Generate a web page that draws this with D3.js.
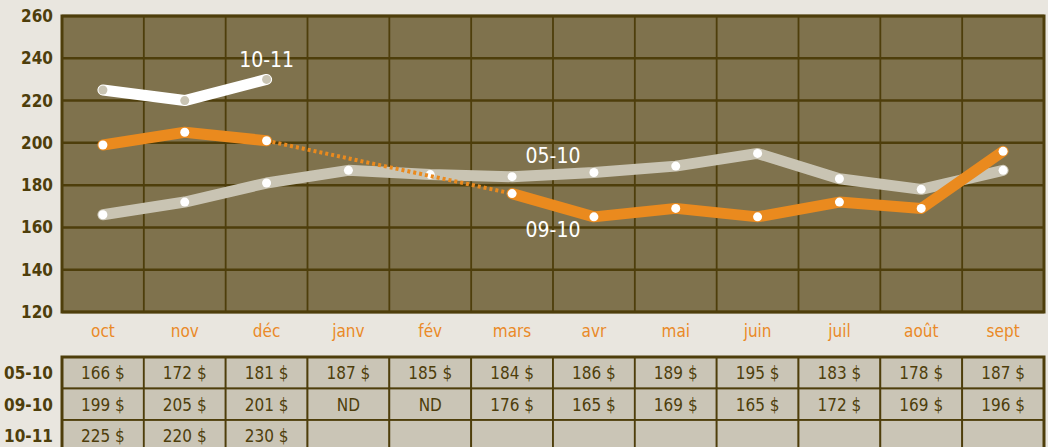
<!DOCTYPE html>
<html>
<head>
<meta charset="utf-8">
<script src="https://cdn.jsdelivr.net/npm/d3@7"></script>
<style>
  body { margin: 0; background: #e9e6df; }
  svg { display: block; }
  text { font-family: "Liberation Sans Narrow", "DejaVu Sans Condensed", "Open Sans", sans-serif; }
</style>
</head>
<body>
<svg id="chart"></svg>
<script>
// data
var months = ["oct", "nov", "déc", "janv", "fév", "mars", "avr", "mai", "juin", "juil", "août", "sept"];
var series0510 = [166, 172, 181, 187, 185, 184, 186, 189, 195, 183, 178, 187];
var series0910 = [199, 205, 201, null, null, 176, 165, 169, 165, 172, 169, 196];
var series1011 = [225, 220, 230];
var rowLabels = ["05-10", "09-10", "10-11"];
var yTicks = [120, 140, 160, 180, 200, 220, 240, 260];

var W = 1048, H = 447;
var plotLeft = 62, plotRight = 1044, plotTop = 16, plotBottom = 312;

var svg = d3.select("#chart").attr("width", W).attr("height", H);

var x = d3.scaleBand().domain(months).range([plotLeft, plotRight]);
var y = d3.scaleLinear().domain([120, 260]).range([plotBottom, plotTop]);
var cx = function (i) { return x(months[i]) + x.bandwidth() / 2; };

var dark = "#4e3e0b";

// plot background
svg.append("rect")
    .attr("x", plotLeft).attr("y", plotTop)
    .attr("width", plotRight - plotLeft).attr("height", plotBottom - plotTop)
    .attr("fill", "#7f724d");

// grid
svg.append("g").selectAll("line")
    .data(yTicks)
    .join("line")
    .attr("x1", plotLeft).attr("x2", plotRight)
    .attr("y1", d => y(d)).attr("y2", d => y(d))
    .attr("stroke", dark).attr("stroke-width", 2.5);

svg.append("g").selectAll("line")
    .data(months.slice(1))
    .join("line")
    .attr("x1", d => x(d)).attr("x2", d => x(d))
    .attr("y1", plotTop).attr("y2", plotBottom)
    .attr("stroke", dark).attr("stroke-width", 1.8);

svg.append("rect")
    .attr("x", plotLeft).attr("y", plotTop)
    .attr("width", plotRight - plotLeft).attr("height", plotBottom - plotTop)
    .attr("fill", "none").attr("stroke", dark).attr("stroke-width", 3);

// y labels
svg.append("g").selectAll("text")
    .data(yTicks)
    .join("text")
    .attr("x", 53).attr("y", d => y(d) + 6)
    .attr("text-anchor", "end")
    .attr("font-size", 17).attr("font-weight", "bold")
    .attr("fill", dark)
    .text(d => d);

// month labels
svg.append("g").selectAll("text")
    .data(months)
    .join("text")
    .attr("x", (d, i) => cx(i)).attr("y", 337)
    .attr("text-anchor", "middle")
    .attr("font-size", 17)
    .attr("fill", "#ea8a28")
    .text(d => d);

// lines
var line = d3.line()
    .defined(d => d != null)
    .x((d, i) => cx(i))
    .y(d => y(d));

function drawSeries(vals, color, dot) {
    svg.append("path")
        .datum(vals)
        .attr("fill", "none")
        .attr("stroke", color)
        .attr("stroke-width", 11)
        .attr("stroke-linecap", "round")
        .attr("stroke-linejoin", "round")
        .attr("d", line);
    svg.append("g").selectAll("circle")
        .data(vals.map((v, i) => [v, i]).filter(d => d[0] != null))
        .join("circle")
        .attr("cx", d => cx(d[1])).attr("cy", d => y(d[0]))
        .attr("r", 4.5)
        .attr("fill", dot);
}

drawSeries(series0510, "#c9c4b3", "#ffffff");

// dotted gap in 09-10
var gapIdx = [2, 5];
svg.append("path")
    .attr("fill", "none")
    .attr("stroke", "#ea8a1e")
    .attr("stroke-width", 4)
    .attr("stroke-dasharray", "3,3")
    .attr("d", d3.line()([[cx(gapIdx[0]), y(series0910[gapIdx[0]])], [cx(gapIdx[1]), y(series0910[gapIdx[1]])]]));

drawSeries(series0910, "#ea8a1e", "#ffffff");
drawSeries(series1011, "#ffffff", "#c9c4b3");

// series labels
var labels = [
    { t: "10-11", i: 2, v: 239 },
    { t: "05-10", i: 5.5, v: 194 },
    { t: "09-10", i: 5.5, v: 159 }
];
svg.append("g").selectAll("text")
    .data(labels)
    .join("text")
    .attr("x", d => plotLeft + x.bandwidth() * (d.i + 0.5))
    .attr("y", d => y(d.v) + 7)
    .attr("text-anchor", "middle")
    .attr("font-size", 21)
    .attr("fill", "#ffffff")
    .text(d => d.t);

// table
var tTop = 357, rowH = 31.5;
var rows = [series0510, series0910, series1011];

var table = svg.append("g");
rows.forEach(function (vals, r) {
    months.forEach(function (m, i) {
        var v = vals[i];
        table.append("rect")
            .attr("x", x(m)).attr("y", tTop + r * rowH)
            .attr("width", x.bandwidth()).attr("height", rowH)
            .attr("fill", "#cac5b6")
            .attr("stroke", dark).attr("stroke-width", 1.8);
        if (i < vals.length) {
            table.append("text")
                .attr("x", cx(i)).attr("y", tTop + r * rowH + 22)
                .attr("text-anchor", "middle")
                .attr("font-size", 17)
                .attr("fill", dark)
                .text(v == null ? "ND" : v + " $");
        }
    });
    table.append("text")
        .attr("x", 53).attr("y", tTop + r * rowH + 22)
        .attr("text-anchor", "end")
        .attr("font-size", 17).attr("font-weight", "bold")
        .attr("fill", dark)
        .text(rowLabels[r]);
});
table.append("rect")
    .attr("x", plotLeft).attr("y", tTop)
    .attr("width", plotRight - plotLeft).attr("height", rowH * 3)
    .attr("fill", "none").attr("stroke", dark).attr("stroke-width", 3);
</script>
</body>
</html>
